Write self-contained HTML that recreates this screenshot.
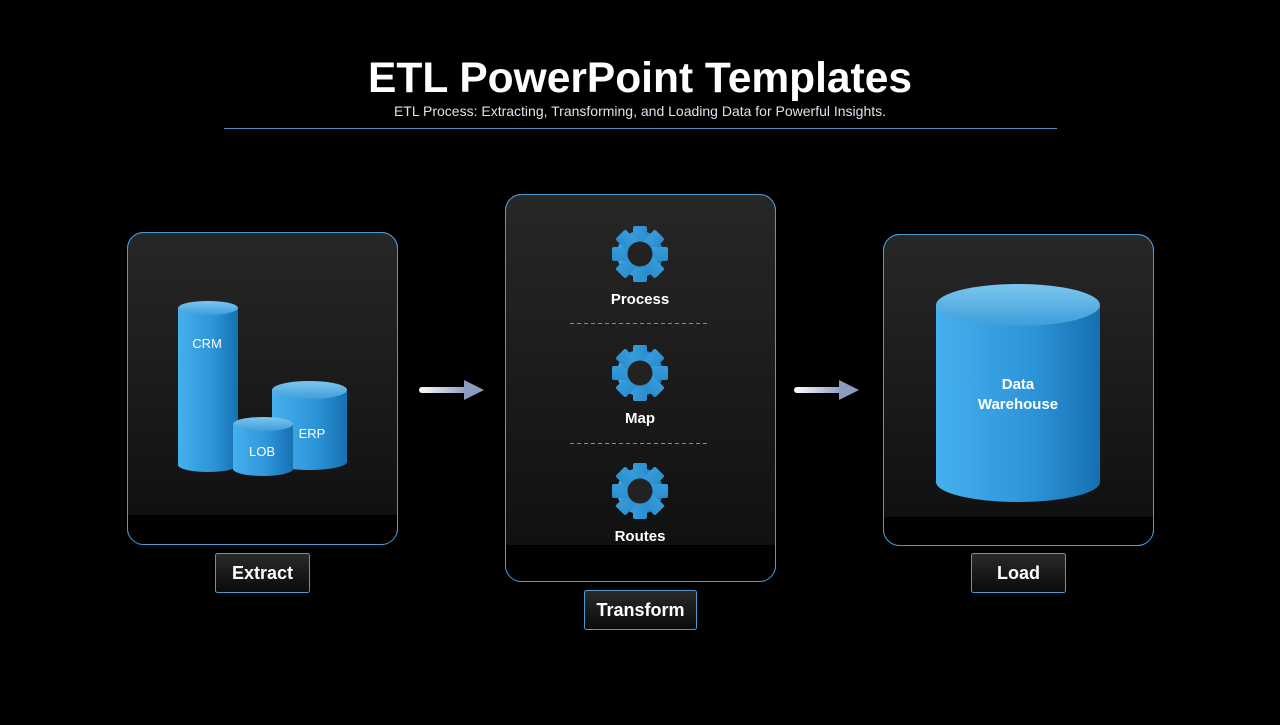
<!DOCTYPE html>
<html><head><meta charset="utf-8"><style>
body{margin:0;background:#000;width:1280px;height:720px;overflow:hidden}
svg text{font-family:"Liberation Sans",Arial,sans-serif}
</style></head><body>
<svg width="1280" height="720" viewBox="0 0 1280 720">
<defs>
<linearGradient id="pan" x1="0" y1="0" x2="0" y2="1">
<stop offset="0" stop-color="#272727"/><stop offset="1" stop-color="#0e0e0e"/></linearGradient>
<linearGradient id="cyl" x1="0" y1="0" x2="1" y2="0">
<stop offset="0" stop-color="#45b0ee"/><stop offset="0.6" stop-color="#2c93d8"/><stop offset="1" stop-color="#1670b0"/></linearGradient>
<linearGradient id="top" x1="0" y1="0" x2="0" y2="1">
<stop offset="0" stop-color="#7cc6ef"/><stop offset="1" stop-color="#3e9ed9"/></linearGradient>
<linearGradient id="gear" gradientUnits="userSpaceOnUse" x1="-29" y1="0" x2="29" y2="0">
<stop offset="0" stop-color="#47b1ee"/><stop offset="1" stop-color="#1a78bc"/></linearGradient>
<linearGradient id="arr" x1="0" y1="0" x2="1" y2="0">
<stop offset="0" stop-color="#ffffff"/><stop offset="1" stop-color="#8a9cc0"/></linearGradient>
<linearGradient id="lab" x1="0" y1="0" x2="0" y2="1">
<stop offset="0" stop-color="#2a2a2a"/><stop offset="1" stop-color="#0a0a0a"/></linearGradient>
<g id="g">
<g fill="url(#gear)">
<circle r="23"/>
<rect x="-7" y="-28" width="14" height="56" rx="2"/>
<rect x="-7" y="-28" width="14" height="56" rx="2" transform="rotate(45)"/>
<rect x="-7" y="-28" width="14" height="56" rx="2" transform="rotate(90)"/>
<rect x="-7" y="-28" width="14" height="56" rx="2" transform="rotate(135)"/>
</g>
<circle r="12.5" fill="#222"/>
</g>
</defs>
<text x="640" y="92" text-anchor="middle" fill="#fff" font-size="42.5" font-weight="bold">ETL PowerPoint Templates</text>
<text x="640" y="116" text-anchor="middle" fill="#d8e4f0" font-size="14">ETL Process: Extracting, Transforming, and Loading Data for Powerful Insights.</text>
<line x1="224" y1="128.5" x2="1057" y2="128.5" stroke="#4a90c8" stroke-width="1"/>

<rect x="127.5" y="232.5" width="270" height="312" rx="16" fill="url(#pan)" stroke="#4a9ad4"/>
<rect x="128" y="515" width="269" height="29" fill="#000"/>
<rect x="127.5" y="232.5" width="270" height="312" rx="16" fill="none" stroke="#4a9ad4"/>
<rect x="505.5" y="194.5" width="270" height="387" rx="16" fill="url(#pan)" stroke="#4a9ad4"/>
<rect x="506" y="545" width="269" height="36" fill="#000"/>
<rect x="505.5" y="194.5" width="270" height="387" rx="16" fill="none" stroke="#4a9ad4"/>
<rect x="883.5" y="234.5" width="270" height="311" rx="16" fill="url(#pan)" stroke="#4a9ad4"/>
<rect x="884" y="517" width="269" height="28" fill="#000"/>
<rect x="883.5" y="234.5" width="270" height="311" rx="16" fill="none" stroke="#4a9ad4"/>

<path d="M178 308 V465 A30 7 0 0 0 238 465 V308 Z" fill="url(#cyl)"/>
<ellipse cx="208" cy="308" rx="30" ry="7" fill="url(#top)"/>
<text x="207" y="348" text-anchor="middle" fill="#fff" font-size="13">CRM</text>
<path d="M272 390 V462 A37.5 8 0 0 0 347 462 V390 Z" fill="url(#cyl)"/>
<ellipse cx="309.5" cy="390" rx="37.5" ry="9" fill="url(#top)"/>
<text x="312" y="438" text-anchor="middle" fill="#fff" font-size="13">ERP</text>
<path d="M233 424 V469 A30 7 0 0 0 293 469 V424 Z" fill="url(#cyl)"/>
<ellipse cx="263" cy="424" rx="30" ry="7" fill="url(#top)"/>
<text x="262" y="456" text-anchor="middle" fill="#fff" font-size="13">LOB</text>

<rect x="419" y="387" width="48" height="6" rx="3" fill="url(#arr)"/>
<polygon points="464,380 484,390 464,400" fill="#8a9cc0"/>
<rect x="794" y="387" width="48" height="6" rx="3" fill="url(#arr)"/>
<polygon points="839,380 859,390 839,400" fill="#8a9cc0"/>

<use href="#g" x="640" y="254"/>
<text x="640" y="304" text-anchor="middle" fill="#fff" font-size="15" font-weight="bold">Process</text>
<line x1="570" y1="323.5" x2="708" y2="323.5" stroke="#4a9ad4" stroke-dasharray="4,3"/>
<use href="#g" x="640" y="373"/>
<text x="640" y="423" text-anchor="middle" fill="#fff" font-size="15" font-weight="bold">Map</text>
<line x1="570" y1="443.5" x2="708" y2="443.5" stroke="#4a9ad4" stroke-dasharray="4,3"/>
<use href="#g" x="640" y="491"/>
<text x="640" y="541" text-anchor="middle" fill="#fff" font-size="15" font-weight="bold">Routes</text>

<path d="M936 305 V482 A82 20 0 0 0 1100 482 V305 Z" fill="url(#cyl)"/>
<ellipse cx="1018" cy="305" rx="82" ry="21" fill="url(#top)"/>
<text x="1018" y="389" text-anchor="middle" fill="#fff" font-size="15" font-weight="bold">Data</text>
<text x="1018" y="409" text-anchor="middle" fill="#fff" font-size="15" font-weight="bold">Warehouse</text>

<rect x="215.5" y="553.5" width="94" height="39" rx="2" fill="url(#lab)" stroke="#4a9ad4"/>
<text x="262.5" y="579" text-anchor="middle" fill="#fff" font-size="18" font-weight="bold">Extract</text>
<rect x="584.5" y="590.5" width="112" height="39" rx="2" fill="url(#lab)" stroke="#4a9ad4"/>
<text x="640.5" y="616" text-anchor="middle" fill="#fff" font-size="18" font-weight="bold">Transform</text>
<rect x="971.5" y="553.5" width="94" height="39" rx="2" fill="url(#lab)" stroke="#4a9ad4"/>
<text x="1018.5" y="579" text-anchor="middle" fill="#fff" font-size="18" font-weight="bold">Load</text>
</svg>
</body></html>
